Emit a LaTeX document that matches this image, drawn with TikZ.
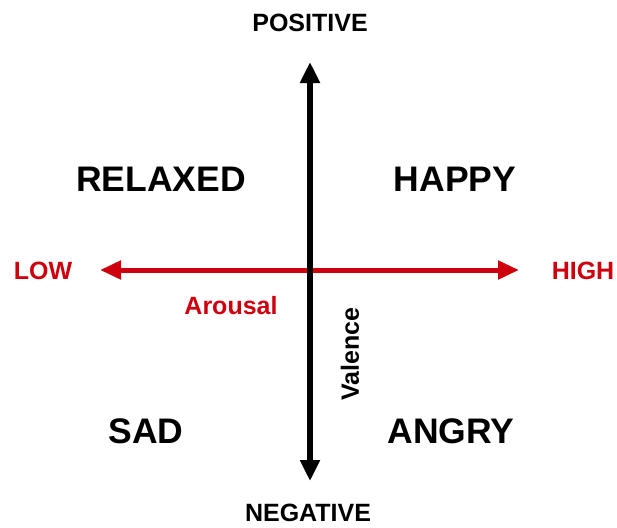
\documentclass[tikz,border=0pt]{standalone}
\usepackage{fontspec}
\setmainfont{Liberation Sans}
\usetikzlibrary{arrows.meta}
\definecolor{arred}{RGB}{206,0,14}
\begin{document}
\begin{tikzpicture}[x=1pt,y=-1pt,
  big/.style={font=\fontsize{35.5}{36}\selectfont\bfseries, inner sep=0pt, anchor=base},
  small/.style={font=\fontsize{25}{26}\selectfont\bfseries, inner sep=0pt, anchor=base},
  redtxt/.style={text=arred},
  vaxis/.style={line width=5.5pt, {Triangle[width=19pt,length=21pt]}-{Triangle[width=19pt,length=21pt]}},
  haxis/.style={line width=5pt, draw=arred, {Triangle[width=18pt,length=21pt]}-{Triangle[width=18pt,length=21pt]}}]
\useasboundingbox (0,0) rectangle (617,527);
\coordinate (vtop) at (310,62);
\coordinate (vbot) at (310,481);
\coordinate (hl) at (100,270);
\coordinate (hr) at (519,270);
\draw[haxis] (hl) -- (hr);
\draw[vaxis] (vtop) -- (vbot);
\node[small] (pos) at (310,31) {POSITIVE};
\node[small] (neg) at (308,521) {NEGATIVE};
\node[small, redtxt] (low) at (43,279) {LOW};
\node[small, redtxt] (high) at (583,279) {HIGH};
\node[big] (relaxed) at (161,191) {RELAXED};
\node[big] (happy) at (455,191) {HAPPY};
\node[big] (sad) at (146,443) {SAD};
\node[big] (angry) at (451,443) {ANGRY};
\node[font=\fontsize{25}{26}\selectfont\bfseries, redtxt, inner sep=0pt] (arousal) at (231,306) {Arousal};
\node[font=\fontsize{25}{26}\selectfont\bfseries, inner sep=0pt, rotate=90] (valence) at (350,354) {Valence};
\end{tikzpicture}
\end{document}
